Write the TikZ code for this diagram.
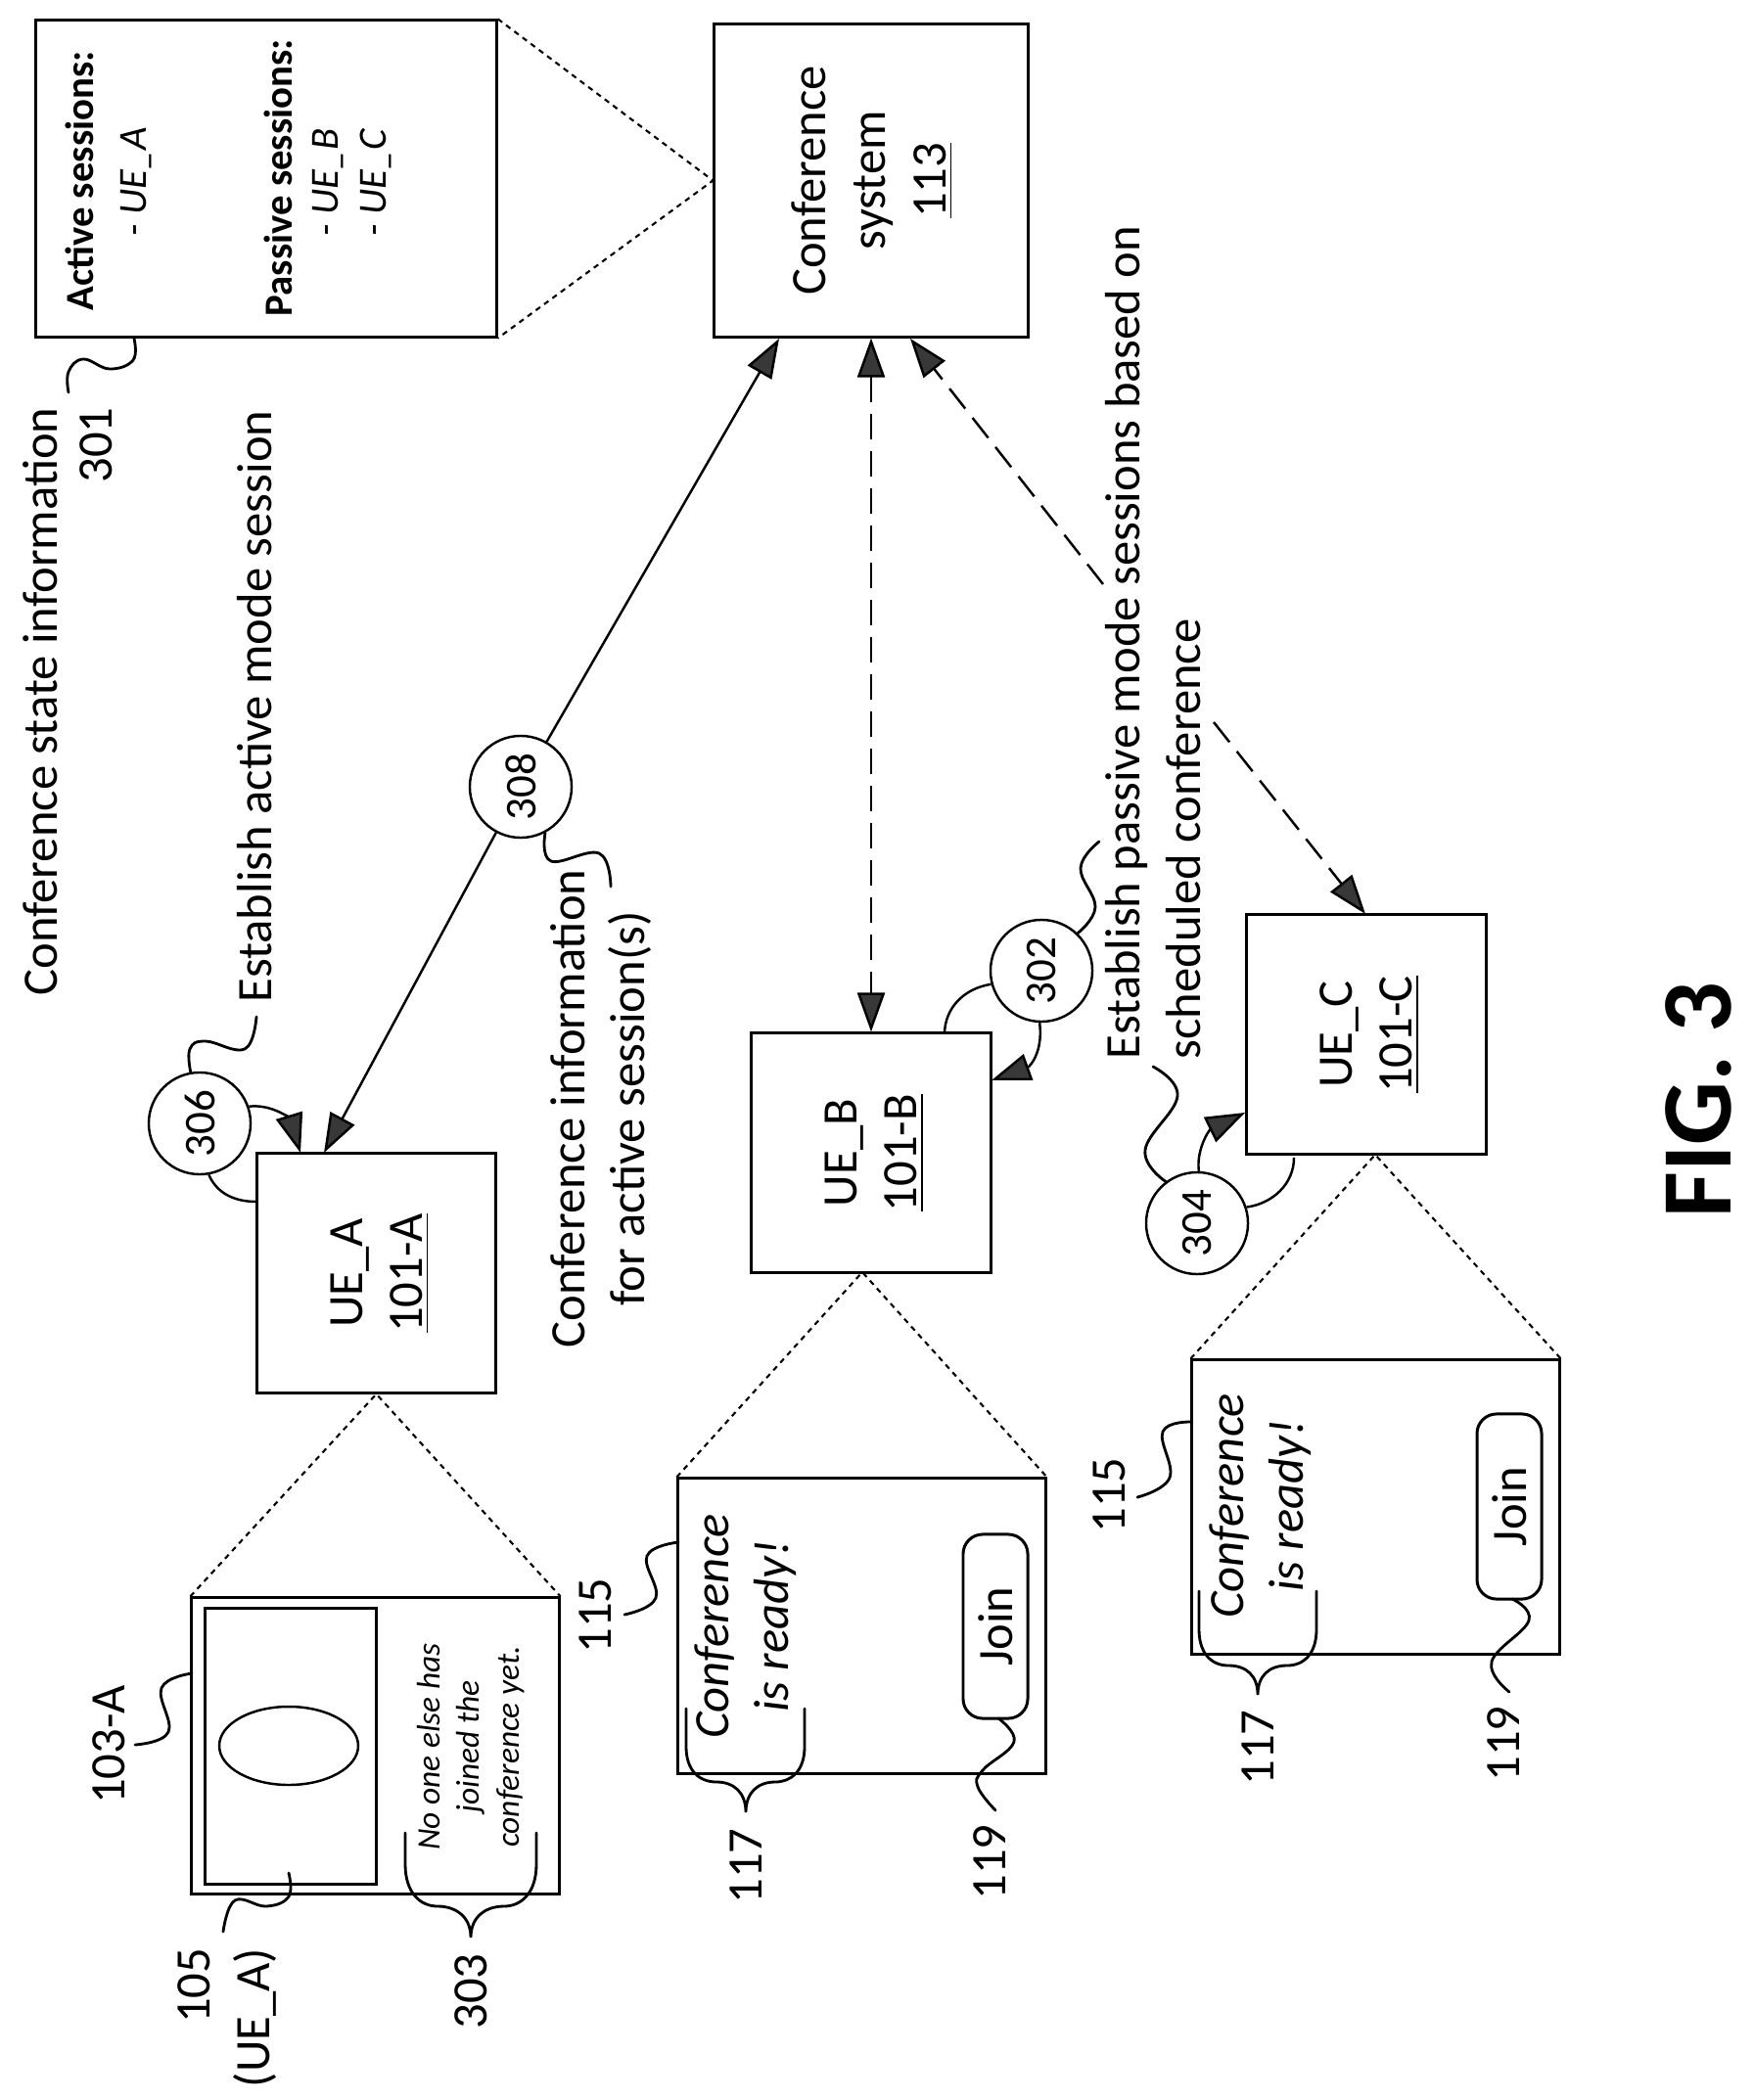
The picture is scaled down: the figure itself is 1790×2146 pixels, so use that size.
\documentclass[tikz,border=0pt]{standalone}
\usepackage{fontspec}
\setmainfont{Carlito}
\usetikzlibrary{arrows.meta}
\tikzset{
  boxn/.style={draw=black,line width=0.85pt,fill=white,inner sep=0pt,align=center,font=\lblfont},
  lbl/.style={rotate=90,inner sep=0pt,align=center,font=\lblfont},
  circ/.style={draw=black,line width=0.7pt,fill=white,circle,minimum size=1.04cm,inner sep=0pt,font=\circfont},
  lead/.style={line width=0.8pt,line cap=round},
  tri/.style={-{Triangle[length=0.4cm,width=0.28cm,fill=black!78,color=black]}},
  conn/.style={line width=0.7pt},
  dsh/.style={line width=0.7pt,dash pattern=on 0.26cm off 0.12cm},
  zoomln/.style={line width=0.6pt,dash pattern=on 0.055cm off 0.05cm},
}
\newcommand{\lblfont}{\fontsize{14.4}{17.4}\selectfont}
\newcommand{\stfont}{\fontsize{11.6}{14}\selectfont}
\newcommand{\circfont}{\fontsize{12.8}{14}\selectfont}
\begin{document}
\begin{tikzpicture}[x=0.01cm,y=-0.01cm]
\useasboundingbox[fill=white] (0,0) rectangle (1790,2146);

% main boxes
\node[boxn,minimum width=4.70cm,minimum height=3.23cm] (state) at (272,182.5) {};
\node[boxn,minimum width=3.20cm,minimum height=3.19cm,rotate=0] (conf) at (890,184.5) {\hspace*{1.5pt}\rotatebox{90}{\begin{tabular}{@{}c@{}}Conference\\system\\\underline{113}\end{tabular}}};
\node[boxn,minimum size=2.44cm] (ueA) at (384.5,1301) {\hspace*{2.3pt}\rotatebox{90}{\begin{tabular}{@{}c@{}}UE\_A\\\underline{101-A}\end{tabular}}};
\node[boxn,minimum size=2.44cm] (ueB) at (890,1178) {\hspace*{2.3pt}\rotatebox{90}{\begin{tabular}{@{}c@{}}UE\_B\\\underline{101-B}\end{tabular}}};
\node[boxn,minimum size=2.44cm] (ueC) at (1396,1057) {\hspace*{2.3pt}\rotatebox{90}{\begin{tabular}{@{}c@{}}UE\_C\\\underline{101-C}\end{tabular}}};

% screens
\node[boxn,minimum width=3.75cm,minimum height=3.02cm] (scrA) at (383.5,1784) {};
\node[boxn,minimum width=3.75cm,minimum height=3.01cm] (scrB) at (880.5,1661.5) {};
\node[boxn,minimum width=3.75cm,minimum height=3.00cm] (scrC) at (1405.5,1540) {};
\node[boxn,minimum width=1.74cm,minimum height=2.81cm] (video) at (297,1784.5) {};
\draw[line width=0.7pt] (295,1784) ellipse [x radius=71,y radius=40];
\node[boxn,rounded corners=0.2cm,minimum width=0.66cm,minimum height=1.88cm] (joinB) at (1017,1662) {\rotatebox{90}{Join}};
\node[boxn,rounded corners=0.2cm,minimum width=0.66cm,minimum height=1.89cm] (joinC) at (1542,1539.5) {\rotatebox{90}{Join}};

% zoom lines
\draw[zoomln] (state.north east) -- (conf.west) -- (state.south east);
\draw[zoomln] (scrA.north west) -- (ueA.south) -- (scrA.north east);
\coordinate (apexB) at (881,1300);
\coordinate (apexC) at (1405,1180);
\draw[zoomln] (scrB.north west) -- (apexB) -- (scrB.north east);
\draw[zoomln] (scrC.north west) -- (apexC) -- (scrC.north east);

% state text
\node[rotate=90,inner sep=0pt,anchor=west,font=\stfont\bfseries] (t1) at (81,318) {Active sessions:};
\node[rotate=90,inner sep=0pt,anchor=west,font=\stfont\itshape] (t2) at (139,242) {- UE\_A};
\node[rotate=90,inner sep=0pt,anchor=west,font=\stfont\bfseries] (t3) at (284,324) {Passive sessions:};
\node[rotate=90,inner sep=0pt,anchor=west,font=\stfont\itshape] (t4) at (335,242) {- UE\_B};
\node[rotate=90,inner sep=0pt,anchor=west,font=\stfont\itshape] (t5) at (384,242) {- UE\_C};

% screen text
\node[rotate=90,inner sep=0pt,align=center,font=\fontsize{9.5}{11.4}\selectfont\itshape] (noone) at (481,1785) {No one else has\\joined the\\conference yet.};
\node[rotate=90,inner sep=0pt,align=center,font=\lblfont\itshape] (readyB) at (762,1662) {Conference\\is ready!};
\node[rotate=90,inner sep=0pt,align=center,font=\lblfont\itshape] (readyC) at (1288,1539) {Conference\\is ready!};

% outside labels
\node[lbl] (l301a) at (41,717) {Conference state information};
\node[lbl] (l301b) at (98,455) {301};
\node[lbl] (lact) at (260,722) {Establish active mode session};
\node[lbl] (lci) at (614,1133) {Conference information\\for active session(s)};
\node[lbl,align=left,anchor=north west] (lpas) at (1129,1083) {Establish passive mode sessions based on\\scheduled conference};
\node[lbl] (l103) at (111,1783) {103-A};
\node[lbl,align=right,anchor=north east] (l105) at (181,1990) {105\\(UE\_A)};
\node[lbl] (l303) at (481,2035) {303};
\node[lbl] (l115b) at (608,1651) {115};
\node[lbl] (l117b) at (762,1907) {117};
\node[lbl] (l119b) at (1011,1903) {119};
\node[lbl] (l115c) at (1133,1528) {115};
\node[lbl] (l117c) at (1285,1786) {117};
\node[lbl] (l119c) at (1536,1782) {119};
\node[rotate=90,inner sep=0pt,font=\fontsize{29}{34}\selectfont\bfseries] (fig) at (1735,1124) {FIG. 3};

% circles
\node[circ] (c306) at (204,1148) {\rotatebox{90}{306}};
\node[circ] (c308) at (532,804) {\rotatebox{90}{308}};
\node[circ] (c302) at (1064,992) {\rotatebox{90}{302}};
\node[circ] (c304) at (1223,1250) {\rotatebox{90}{304}};

% connectors
\coordinate (tipConfA) at (796,346);
\coordinate (tipUEA) at (331,1178);
\draw[conn,tri] (c308) -- (tipConfA);
\draw[conn,tri] (c308) -- (tipUEA);
\draw[dsh,{Triangle[length=0.4cm,width=0.28cm,fill=black!78,color=black]}-{Triangle[length=0.4cm,width=0.28cm,fill=black!78,color=black]}] (conf.south) -- (ueB.north);
\coordinate (gapA) at (1127,597);
\coordinate (tipConfC) at (930,346);
\coordinate (gapC) at (1240,738);
\coordinate (tipUEC) at (1395,934);
\draw[dsh,tri] (gapA) -- (tipConfC);
\draw[dsh,tri] (gapC) -- (tipUEC);

% self loops
\coordinate (t306) at (307,1178);
\coordinate (b306) at (262,1228);
\draw[conn,tri] (c306.19) .. controls (280,1128) and (297,1145) .. (t306);
\draw[conn] (c306.-80) .. controls (222,1220) and (240,1228) .. (b306);
\coordinate (t302) at (1013,1104);
\coordinate (b302) at (965,1057);
\draw[conn,tri] (c302.268) .. controls (1066,1075) and (1052,1090) .. (t302);
\draw[conn] (c302.195) .. controls (985,1010) and (965,1030) .. (b302);
\coordinate (t304) at (1272,1137);
\coordinate (b304) at (1322,1183);
\draw[conn,tri] (c304.88) .. controls (1222,1175) and (1235,1155) .. (t304);
\draw[conn] (c304.18) .. controls (1300,1230) and (1322,1210) .. (b304);

% leaders
\draw[lead] plot[smooth,tension=0.7] coordinates {(137,346) (136,368) (112,377) (85,367) (70,380) (70,401)};
\draw[lead] plot[smooth,tension=0.7] coordinates {(c306.100) (194,1072) (210,1064) (250,1072) (262,1039)};
\draw[lead] plot[smooth,tension=0.7] coordinates {(c308.-62) (563,880) (612,872) (624,906)};
\draw[lead] plot[smooth,tension=0.7] coordinates {(c302.46) (1119,927) (1104,887) (1123,860)};
\draw[lead] plot[smooth,tension=0.7] coordinates {(c304.127) (1170,1175) (1203,1120) (1178,1090)};
\draw[lead] plot[smooth,tension=0.7] coordinates {(196,1710) (165,1725) (172,1770) (138,1783)};
\draw[lead] plot[smooth,tension=0.7] coordinates {(295,1914) (295,1938) (272,1948) (240,1942) (228,1974)};
\draw[lead] plot[smooth,tension=0.7] coordinates {(693,1576) (661,1590) (670,1633) (638,1650)};
\draw[lead] plot[smooth,tension=0.7] coordinates {(1218,1453) (1188,1463) (1195,1510) (1162,1530)};
\draw[lead] plot[smooth,tension=0.7] coordinates {(1020,1756) (1036,1780) (1004,1809) (999,1826) (1017,1850)};
\draw[lead] plot[smooth,tension=0.7] coordinates {(1545,1634) (1562,1656) (1524,1698) (1542,1729)};

% braces
\draw[lead] (414,1873) -- (414,1905) .. controls (414,1935) and (430,1948) .. (447,1948) .. controls (465,1948) and (481,1958) .. (481,1980) .. controls (481,1958) and (497,1948) .. (515,1948) .. controls (532,1948) and (548,1935) .. (548,1905) -- (548,1873);
\draw[lead] (701,1746) -- (701,1785) .. controls (701,1810) and (715,1821) .. (732,1821) .. controls (750,1821) and (762,1832) .. (762,1852) .. controls (762,1832) and (774,1821) .. (792,1821) .. controls (808,1821) and (822,1810) .. (822,1785) -- (822,1746);
\draw[lead] (1225,1626) -- (1225,1665) .. controls (1225,1690) and (1238,1702) .. (1255,1702) .. controls (1273,1702) and (1285,1712) .. (1285,1732) .. controls (1285,1712) and (1297,1702) .. (1315,1702) .. controls (1332,1702) and (1345,1690) .. (1345,1665) -- (1345,1626);
\end{tikzpicture}
\end{document}
